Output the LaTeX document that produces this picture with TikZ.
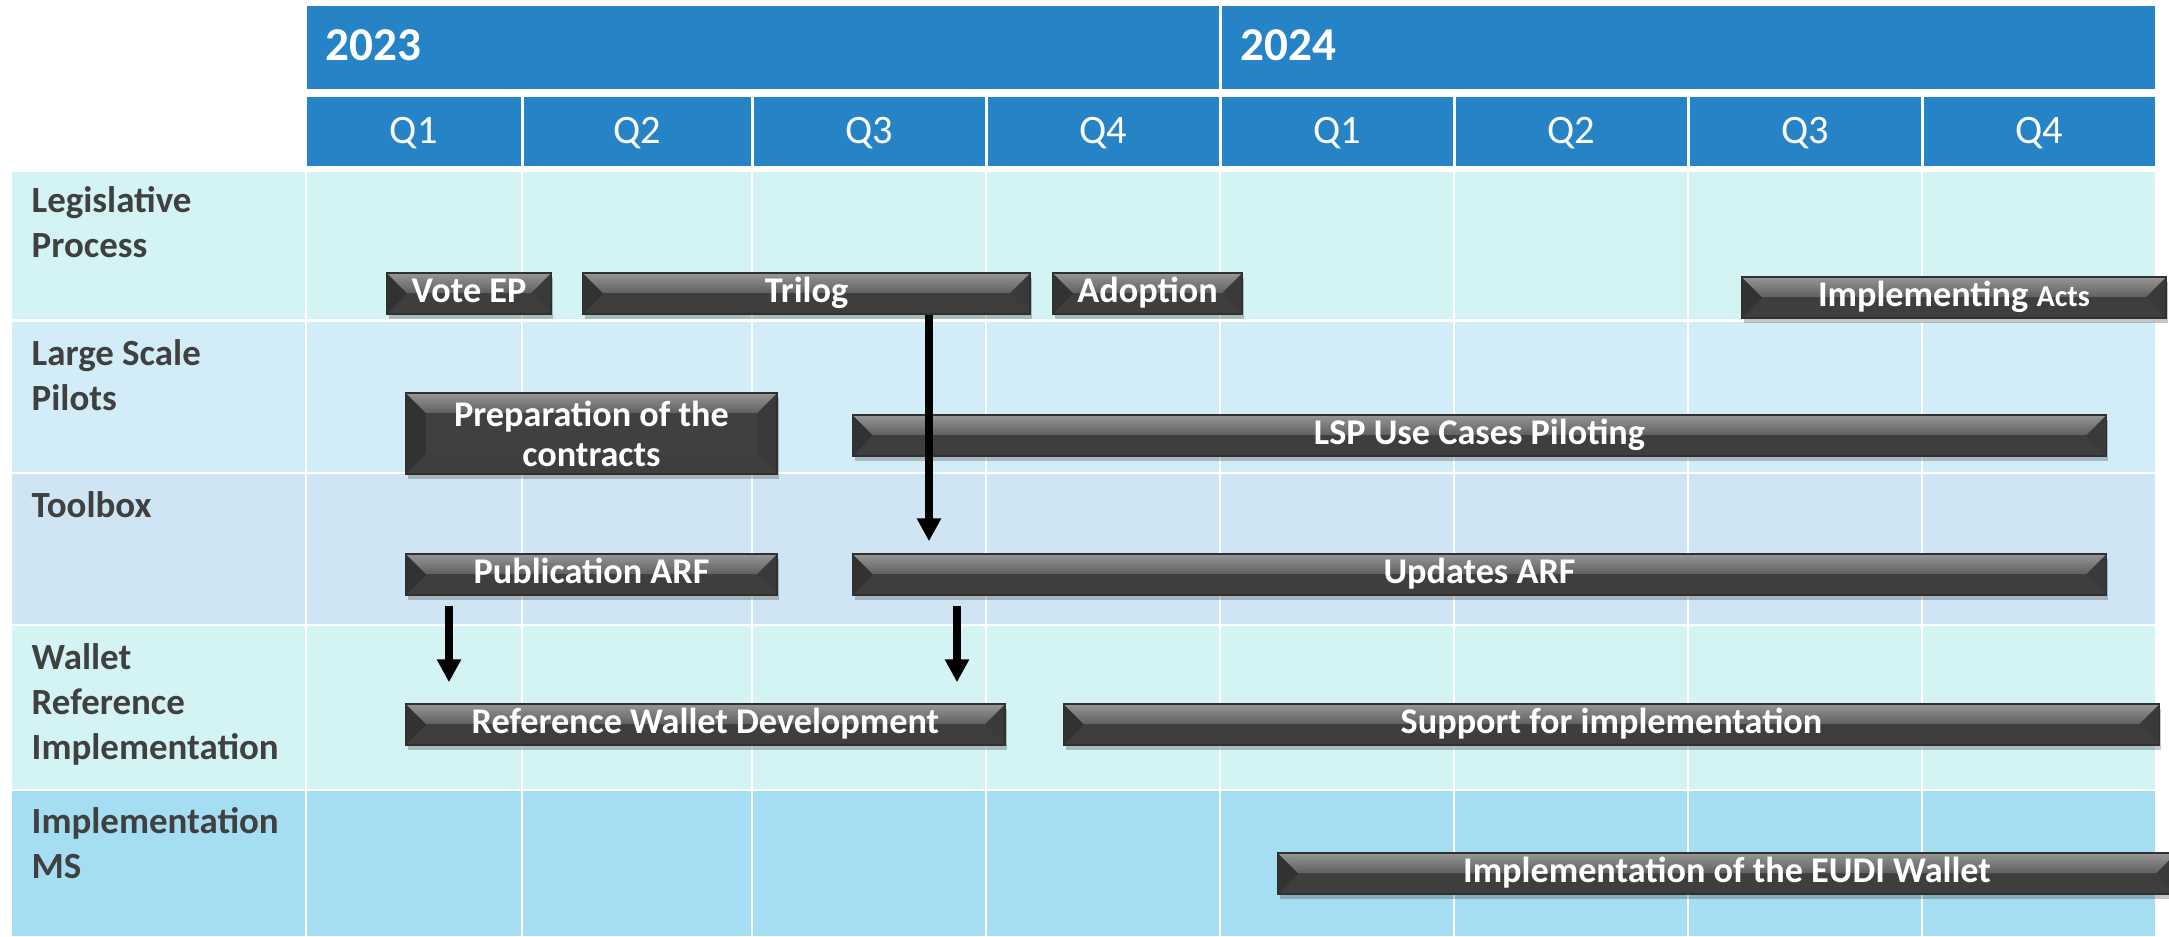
\documentclass[tikz,border=0pt]{standalone}
\usepackage{fontspec}
\setmainfont{Carlito}
\usetikzlibrary{arrows.meta,calc,shadows}

\definecolor{hdrblue}{RGB}{38,132,198}
\definecolor{rowA}{RGB}{211,243,245}
\definecolor{rowB}{RGB}{211,237,248}
\definecolor{rowC}{RGB}{208,229,243}
\definecolor{rowD}{RGB}{165,222,242}
\definecolor{labelgray}{RGB}{64,64,64}
\definecolor{barbody}{RGB}{64,64,64}
\definecolor{baredge}{RGB}{48,48,48}
\definecolor{barhi}{RGB}{150,150,150}
\definecolor{barmid}{RGB}{96,96,96}
\definecolor{barleft}{RGB}{50,50,50}
\definecolor{barright}{RGB}{58,58,58}
\definecolor{barbottom}{RGB}{62,62,62}

\begin{document}
\begin{tikzpicture}[x=0.01cm,y=-0.01cm,
  yeartext/.style={text=white,font=\fontsize{13.4}{16}\selectfont\bfseries,anchor=base west,inner sep=0},
  qtext/.style={text=white,font=\fontsize{11.5}{14}\selectfont,anchor=base,inner sep=0},
  rowlabel/.style={text=labelgray,font=\fontsize{10.5}{12.7}\selectfont\bfseries,anchor=north west,align=left,inner sep=0},
  gridline/.style={white,line width=0.7pt},
  bar/.style={rectangle,inner sep=0,draw=baredge,line width=0.4pt,fill=barbody,
    minimum height=0.41cm,
    text=white,font=\fontsize{10.3}{11.4}\selectfont\bfseries,align=center,
    drop shadow={shadow xshift=0.02cm,shadow yshift=-0.05cm,opacity=0.28,fill=black!80},
    path picture={
      \coordinate (pnw) at (path picture bounding box.north west);
      \coordinate (pne) at (path picture bounding box.north east);
      \coordinate (psw) at (path picture bounding box.south west);
      \coordinate (pse) at (path picture bounding box.south east);
      \fill[barbottom] (psw) -- ($(psw)+(20,-20)$) -- ($(pse)+(-20,-20)$) -- (pse) -- cycle;
      \fill[barleft] (pnw) -- ($(pnw)+(20,20)$) -- ($(psw)+(20,-20)$) -- (psw) -- cycle;
      \fill[barright] (pne) -- ($(pne)+(-20,20)$) -- ($(pse)+(-20,-20)$) -- (pse) -- cycle;
      \shade[top color=barhi,bottom color=barmid]
        (pnw) -- (pne) -- ($(pne)+(-20,20)$) -- ($(pnw)+(20,20)$) -- cycle;
    }},
  onebar/.style={text height=0.7em,text depth=0.2em},
  link/.style={line width=0.08cm,-{Triangle[width=0.23cm,length=0.23cm]}}
]
\useasboundingbox (0,0) rectangle (2169,936);

% year band
\fill[hdrblue] (307,6) rectangle (1219,89);
\fill[hdrblue] (1222,6) rectangle (2155,89);
\node[yeartext] (y2023) at (325,60) {2023};
\node[yeartext] (y2024) at (1240,60) {2024};

% quarter band
\foreach \a/\b/\q [count=\i] in {307/520.5/Q1, 523.5/750.5/Q2, 753.5/984.5/Q3, 987.5/1218.5/Q4,
    1221.5/1452.5/Q1, 1455.5/1686.5/Q2, 1689.5/1920.5/Q3, 1923.5/2155/Q4}{
  \fill[hdrblue] (\a,97) rectangle (\b,166);
  \node[qtext] (q\i) at ({(\a+\b)/2},143) {\q};
}

% swim lanes
\fill[rowA] (12,172) rectangle (2155,319);
\fill[rowB] (12,322) rectangle (2155,472);
\fill[rowC] (12,474) rectangle (2155,624);
\fill[rowA] (12,626) rectangle (2155,789);
\fill[rowD] (12,791) rectangle (2155,936);
\foreach \x in {306,522,752,986,1220,1454,1688,1922}
  \draw[gridline] (\x,172) -- (\x,936);

% lane titles
\node[rowlabel] (lane1) at (31,181) {\strut Legislative\\Process};
\node[rowlabel] (lane2) at (31,334) {\strut Large Scale\\Pilots};
\node[rowlabel] (lane3) at (31,486) {\strut Toolbox};
\node[rowlabel] (lane4) at (31,638) {\strut Wallet\\Reference\\Implementation};
\node[rowlabel] (lane5) at (31,802) {\strut Implementation\\MS};

% activity bars
\node[bar,onebar,minimum width=1.64cm] (vote) at (469,293.5) {Vote EP};
\node[bar,onebar,minimum width=4.47cm] (trilog) at (806.5,293.5) {Trilog};
\node[bar,onebar,minimum width=1.89cm] (adopt) at (1147.5,293.5) {Adoption};
\node[bar,onebar,minimum width=4.24cm] (impacts) at (1954,297.5) {Implementing {\fontsize{8.6}{10}\selectfont Acts}};
\node[bar,minimum width=3.71cm,minimum height=0.81cm] (prep) at (591.5,433.5) {Preparation of the\\contracts};
\node[bar,onebar,minimum width=12.53cm] (lsp) at (1479.5,435.5) {LSP Use Cases Piloting};
\node[bar,onebar,minimum width=3.71cm] (pub) at (591.5,574.5) {Publication ARF};
\node[bar,onebar,minimum width=12.53cm] (upd) at (1479.5,574.5) {Updates ARF};
\node[bar,onebar,minimum width=5.99cm] (rwd) at (705.5,724.5) {Reference Wallet Development};
\node[bar,onebar,minimum width=10.95cm] (sup) at (1611.5,724.5) {Support for implementation};
\node[bar,onebar,minimum width=8.98cm] (eudi) at (1727,873.5) {Implementation of the EUDI Wallet};

% dependencies
\coordinate (ax1) at (929,0);
\coordinate (ax2) at (449,0);
\coordinate (ax3) at (957,0);
\draw[link,shorten >=0.12cm] (trilog.south -| ax1) -- (upd.north -| ax1);
\draw[link,shorten <=0.1cm,shorten >=0.21cm] (pub.south -| ax2) -- (rwd.north -| ax2);
\draw[link,shorten <=0.1cm,shorten >=0.21cm] (upd.south -| ax3) -- (rwd.north -| ax3);
\end{tikzpicture}
\end{document}
